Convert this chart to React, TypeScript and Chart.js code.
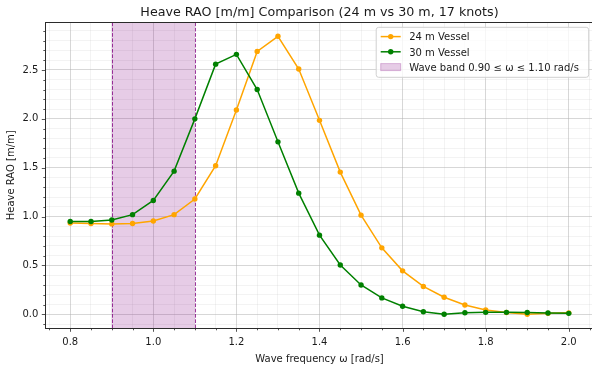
import React, { useEffect, useRef } from 'react';
import { Chart, registerables } from 'chart.js';

Chart.register(...registerables);

// ---- data ----
const omega = [0.80, 0.85, 0.90, 0.95, 1.00, 1.05, 1.10, 1.15, 1.20, 1.25, 1.30, 1.35, 1.40, 1.45, 1.50, 1.55, 1.60, 1.65, 1.70, 1.75, 1.80, 1.85, 1.90, 1.95, 2.00];
const rao24 = [0.935, 0.93, 0.925, 0.93, 0.955, 1.02, 1.18, 1.52, 2.09, 2.69, 2.845, 2.51, 1.985, 1.455, 1.015, 0.68, 0.445, 0.285, 0.175, 0.095, 0.045, 0.018, 0.0, 0.01, 0.015];
const rao30 = [0.95, 0.95, 0.965, 1.02, 1.165, 1.465, 2.0, 2.56, 2.66, 2.3, 1.765, 1.24, 0.81, 0.505, 0.30, 0.168, 0.082, 0.027, 0.0, 0.016, 0.02, 0.02, 0.018, 0.013, 0.01];
const seriesLabels = ['24 m Vessel', '30 m Vessel'];
const bandLabel = 'Wave band 0.90 \u2264 \u03c9 \u2264 1.10 rad/s';
const bandRange = [0.9, 1.1];
const titleText = 'Heave RAO [m/m] Comparison (24 m vs 30 m, 17 knots)';
const xTitle = 'Wave frequency \u03c9 [rad/s]';
const yTitle = 'Heave RAO [m/m]';
const xMajorTicks = [0.8, 1.0, 1.2, 1.4, 1.6, 1.8, 2.0];
const yMajorTicks = [0.0, 0.5, 1.0, 1.5, 2.0, 2.5];
const xRange = [0.74, 2.06];
const yRange = [-0.143, 2.988];
const xMinorStep = 0.05;
const yMinorStep = 0.1;

const COLORS = { s24: '#FFA500', s30: '#008000' };
const FONT = '"DejaVu Sans", Verdana, sans-serif';
const TEXT = '#1a1a1a';
const SPINE = '#2b2b2b';

function stepTicks(lo: number, hi: number, step: number): number[] {
  const out: number[] = [];
  const start = Math.ceil(lo / step - 1e-9);
  const end = Math.floor(hi / step + 1e-9);
  for (let i = start; i <= end; i++) out.push(Math.round(i * step * 1000) / 1000);
  return out;
}
const isMajor = (v: number, majors: number[]) => majors.some((m) => Math.abs(m - v) < 1e-6);

const xTickVals = stepTicks(xRange[0], xRange[1], xMinorStep);
const yTickVals = stepTicks(yRange[0], yRange[1], yMinorStep);

const decorPlugin = {
  id: 'decor',
  beforeDatasetsDraw(chart: any) {
    const { ctx, chartArea: a, scales } = chart;
    const xs = scales.x;
    const x1 = xs.getPixelForValue(bandRange[0]);
    const x2 = xs.getPixelForValue(bandRange[1]);
    ctx.save();
    ctx.beginPath();
    ctx.rect(a.left, a.top, a.right - a.left, a.bottom - a.top);
    ctx.clip();
    ctx.fillStyle = 'rgba(128,0,128,0.2)';
    ctx.fillRect(x1, a.top, x2 - x1, a.bottom - a.top);
    ctx.strokeStyle = 'rgba(128,0,128,0.78)';
    ctx.lineWidth = 1;
    ctx.setLineDash([3.7, 1.6]);
    [x1, x2].forEach((x) => {
      ctx.beginPath();
      ctx.moveTo(Math.round(x) + 0.5, a.bottom);
      ctx.lineTo(Math.round(x) + 0.5, a.top);
      ctx.stroke();
    });
    ctx.restore();
  },
  afterDraw(chart: any) {
    const { ctx, chartArea: a, scales } = chart;
    ctx.save();
    // tick marks
    ctx.strokeStyle = SPINE;
    ctx.lineWidth = 0.8;
    xTickVals.forEach((v) => {
      const px = Math.round(scales.x.getPixelForValue(v)) + 0.5;
      const len = isMajor(v, xMajorTicks) ? 3.5 : 2;
      ctx.beginPath();
      ctx.moveTo(px, a.bottom);
      ctx.lineTo(px, a.bottom + len);
      ctx.stroke();
    });
    yTickVals.forEach((v) => {
      const py = Math.round(scales.y.getPixelForValue(v)) + 0.5;
      const len = isMajor(v, yMajorTicks) ? 3.5 : 2;
      ctx.beginPath();
      ctx.moveTo(a.left, py);
      ctx.lineTo(a.left - len, py);
      ctx.stroke();
    });
    // spines
    ctx.lineWidth = 1;
    ctx.strokeRect(Math.round(a.left) + 0.5, Math.round(a.top) + 0.5, Math.round(a.right - a.left), Math.round(a.bottom - a.top));

    // legend
    ctx.font = `10px ${FONT}`;
    const labels = [seriesLabels[0], seriesLabels[1], bandLabel];
    const textW = Math.max(175, ...labels.map((l) => ctx.measureText(l).width));
    const boxRight = a.right - 5;
    const boxTop = a.top + 5;
    const textX = boxRight - 4.5 - textW;
    const handleR = textX - 8.5;
    const handleL = handleR - 20;
    const boxLeft = handleL - 4.5;
    const boxH = 50;
    const r = 2.5;
    ctx.beginPath();
    ctx.moveTo(boxLeft + r, boxTop);
    ctx.arcTo(boxRight, boxTop, boxRight, boxTop + boxH, r);
    ctx.arcTo(boxRight, boxTop + boxH, boxLeft, boxTop + boxH, r);
    ctx.arcTo(boxLeft, boxTop + boxH, boxLeft, boxTop, r);
    ctx.arcTo(boxLeft, boxTop, boxRight, boxTop, r);
    ctx.closePath();
    ctx.fillStyle = 'rgba(255,255,255,0.8)';
    ctx.fill();
    ctx.strokeStyle = '#d0d0d0';
    ctx.lineWidth = 1;
    ctx.stroke();

    const rowC = [boxTop + 9.3, boxTop + 24.5, boxTop + 39.8];
    const cols = [COLORS.s24, COLORS.s30];
    for (let i = 0; i < 2; i++) {
      ctx.strokeStyle = cols[i];
      ctx.lineWidth = 1.5;
      ctx.beginPath();
      ctx.moveTo(handleL, rowC[i]);
      ctx.lineTo(handleR, rowC[i]);
      ctx.stroke();
      ctx.fillStyle = cols[i];
      ctx.beginPath();
      ctx.arc((handleL + handleR) / 2, rowC[i], 2.7, 0, Math.PI * 2);
      ctx.fill();
    }
    ctx.fillStyle = 'rgba(128,0,128,0.2)';
    ctx.fillRect(handleL, rowC[2] - 3.5, 20, 7);
    ctx.strokeStyle = 'rgba(128,0,128,0.25)';
    ctx.lineWidth = 1;
    ctx.strokeRect(handleL, rowC[2] - 3.5, 20, 7);

    ctx.fillStyle = TEXT;
    ctx.textBaseline = 'alphabetic';
    ctx.textAlign = 'left';
    labels.forEach((l, i) => ctx.fillText(l, textX, rowC[i] + 3.7));
    ctx.restore();
  },
};

export default function App() {
  const ref = useRef<HTMLCanvasElement | null>(null);
  useEffect(() => {
    if (!ref.current) return;
    const toXY = (ys: number[]) => omega.map((x, i) => ({ x, y: ys[i] }));
    const chart = new Chart(ref.current, {
      type: 'line',
      data: {
        datasets: [
          {
            label: seriesLabels[0],
            data: toXY(rao24),
            borderColor: COLORS.s24,
            backgroundColor: COLORS.s24,
            pointBackgroundColor: COLORS.s24,
            borderWidth: 1.5,
            pointRadius: 2.7,
            pointBorderWidth: 0,
            order: 1,
          },
          {
            label: seriesLabels[1],
            data: toXY(rao30),
            borderColor: COLORS.s30,
            backgroundColor: COLORS.s30,
            pointBackgroundColor: COLORS.s30,
            borderWidth: 1.5,
            pointRadius: 2.7,
            pointBorderWidth: 0,
            order: 0,
          },
        ],
      },
      options: {
        responsive: false,
        animation: false,
        devicePixelRatio: 1,
        layout: { padding: { left: 0, right: 6.3, top: 0, bottom: 0 } },
        plugins: {
          legend: { display: false },
          tooltip: { enabled: false },
          title: {
            display: true,
            text: titleText,
            fullSize: false,
            color: TEXT,
            font: { family: FONT, size: 12.7, weight: 'normal' },
            padding: { top: 4.9, bottom: 2.16 },
          },
        },
        scales: {
          x: {
            type: 'linear',
            min: xRange[0],
            max: xRange[1],
            afterFit: (s: any) => { s.height = 36.7; },
            afterBuildTicks: (s: any) => { s.ticks = xTickVals.map((v) => ({ value: v })); },
            ticks: {
              autoSkip: false,
              maxRotation: 0,
              padding: 8,
              color: TEXT,
              font: { family: FONT, size: 10 },
              callback: (v: any) => (isMajor(Number(v), xMajorTicks) ? Number(v).toFixed(1) : ''),
            },
            grid: {
              drawTicks: false,
              color: (c: any) => (c.tick && isMajor(c.tick.value, xMajorTicks) ? 'rgba(176,176,176,0.5)' : 'rgba(176,176,176,0.2)'),
              lineWidth: (c: any) => (c.tick && isMajor(c.tick.value, xMajorTicks) ? 1 : 0.8),
            },
            border: { display: false },
            title: {
              display: true,
              text: xTitle,
              color: TEXT,
              font: { family: FONT, size: 10 },
              padding: { top: 0, bottom: 0 },
            },
          },
          y: {
            type: 'linear',
            min: yRange[0],
            max: yRange[1],
            afterFit: (s: any) => { s.width = 45.3; },
            afterBuildTicks: (s: any) => { s.ticks = yTickVals.map((v) => ({ value: v })); },
            ticks: {
              autoSkip: false,
              padding: 7,
              color: TEXT,
              font: { family: FONT, size: 10 },
              callback: (v: any) => (isMajor(Number(v), yMajorTicks) ? Number(v).toFixed(1) : ''),
            },
            grid: {
              drawTicks: false,
              color: (c: any) => (c.tick && isMajor(c.tick.value, yMajorTicks) ? 'rgba(176,176,176,0.5)' : 'rgba(176,176,176,0.2)'),
              lineWidth: (c: any) => (c.tick && isMajor(c.tick.value, yMajorTicks) ? 1 : 0.8),
            },
            border: { display: false },
            title: {
              display: true,
              text: yTitle,
              color: TEXT,
              font: { family: FONT, size: 10 },
              padding: { top: 5.7, bottom: 0 },
            },
          },
        },
      },
      plugins: [decorPlugin],
    } as any);
    return () => chart.destroy();
  }, []);

  return (
    <div style={{ position: 'fixed', left: 0, top: 0, width: 592, height: 365, overflow: 'hidden', background: '#fff' }}>
      <canvas ref={ref} width={600} height={365} style={{ display: 'block', width: 600, height: 365 }} />
    </div>
  );
}
